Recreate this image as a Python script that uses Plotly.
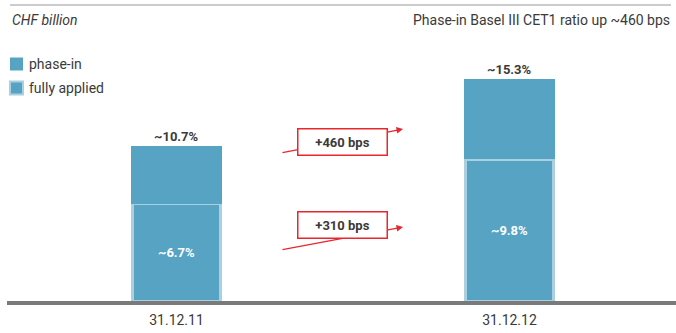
import plotly.graph_objects as go

# Data
dates = ["31.12.11", "31.12.12"]
phase_in = [10.7, 15.3]        # phase-in Basel III CET1 ratio (%)
fully_applied = [6.7, 9.8]     # fully applied Basel III CET1 ratio (%)
changes = ["+460 bps", "+310 bps"]

phase_in_extra = [round(p - f, 1) for p, f in zip(phase_in, fully_applied)]

W, H = 676, 333
ML, MR, MT, MB = 10, 0, 40, 32
PW, PH = W - ML - MR, H - MT - MB

BLUE = "#56a3c3"
LIGHT = "#a9cfe0"
RED = "#e8262d"
TXT = "#3a3a3a"
FONT = "Liberation Sans Narrow, Roboto, Arial, sans-serif"


def px(x):
    return (x - ML) / PW


def py(y):
    return (H - MB - y) / PH


fig = go.Figure()
fig.add_bar(
    x=dates, y=fully_applied, name="fully applied",
    marker=dict(color=BLUE, line=dict(color=LIGHT, width=3)),
    text=[f"~{v}%" for v in fully_applied], textposition="inside",
    insidetextanchor="middle",
    textfont=dict(color="white", size=13, family=FONT, weight="bold"),
    width=0.264, hoverinfo="skip",
)
fig.add_bar(
    x=dates, y=phase_in_extra, name="phase-in",
    marker=dict(color=BLUE, line=dict(width=0)),
    width=0.273, hoverinfo="skip",
)

ann = []
for d, total in zip(dates, phase_in):
    ann.append(dict(x=d, y=total, text=f"<b>~{total}%</b>", showarrow=False,
                    yanchor="bottom", yshift=0,
                    font=dict(size=13, color=TXT, family=FONT)))

# Change callouts: arrow line, then boxed label on top
arrows = [((281, 153), (403, 129), (342.5, 141.5)),
          ((281, 250), (403, 227), (342.5, 238.5))]
for label, (tail, head, box) in zip(changes, arrows):
    ann.append(dict(x=px(head[0]), y=py(head[1]), xref="paper", yref="paper",
                    ax=tail[0] - head[0], ay=tail[1] - head[1],
                    text="", showarrow=True, arrowhead=2, arrowsize=1,
                    arrowwidth=1.3, arrowcolor=RED, standoff=0))
    ann.append(dict(x=px(box[0]), y=py(box[1]), xref="paper", yref="paper",
                    text=f"<b>{label}</b>", showarrow=False,
                    width=88, height=25, bgcolor="white",
                    bordercolor=RED, borderwidth=1.5, borderpad=0,
                    font=dict(size=13, color=TXT, family=FONT)))

# Header texts
ann.append(dict(x=px(10), y=py(20), xref="paper", yref="paper",
                text="<i>CHF billion</i>", showarrow=False,
                xanchor="left", yanchor="middle",
                font=dict(size=14, color=TXT, family=FONT)))
ann.append(dict(x=px(672), y=py(20), xref="paper", yref="paper",
                text="Phase-in Basel III CET1 ratio up ~460 bps", showarrow=False,
                xanchor="right", yanchor="middle",
                font=dict(size=14, color=TXT, family=FONT)))

# Legend
legend_items = [("phase-in", 64, None), ("fully applied", 88, LIGHT)]
shapes = []
for name, yc, border in legend_items:
    shapes.append(dict(type="rect", xref="paper", yref="paper",
                       x0=px(10), x1=px(23), y0=py(yc + 6.5), y1=py(yc - 6.5),
                       fillcolor=BLUE,
                       line=dict(color=border if border else BLUE,
                                 width=2 if border else 0)))
    ann.append(dict(x=px(27), y=py(yc), xref="paper", yref="paper",
                    text=name, showarrow=False, xanchor="left", yanchor="middle",
                    font=dict(size=14, color=TXT, family=FONT)))

# Top rule and baseline
shapes.append(dict(type="line", xref="paper", yref="paper",
                   x0=px(10), x1=px(671), y0=py(5), y1=py(5),
                   line=dict(color="#9a9a9a", width=1.2)))
shapes.append(dict(type="rect", xref="paper", yref="paper",
                   x0=px(7), x1=1, y0=py(301), y1=py(305),
                   fillcolor="#7a7a7a", line=dict(width=0)))

fig.update_layout(
    width=W, height=H, margin=dict(l=ML, r=MR, t=MT, b=MB),
    barmode="stack", showlegend=False,
    paper_bgcolor="white", plot_bgcolor="white",
    annotations=ann, shapes=shapes,
    xaxis=dict(range=[-0.5, 1.5], showgrid=False, showline=False, ticks="",
               zeroline=False, ticklabelstandoff=9,
               tickfont=dict(size=14, color=TXT, family=FONT)),
    yaxis=dict(range=[0, PH / 14.49], visible=False, showgrid=False,
               zeroline=False),
    font=dict(family=FONT),
)

fig.write_html("out.html")
